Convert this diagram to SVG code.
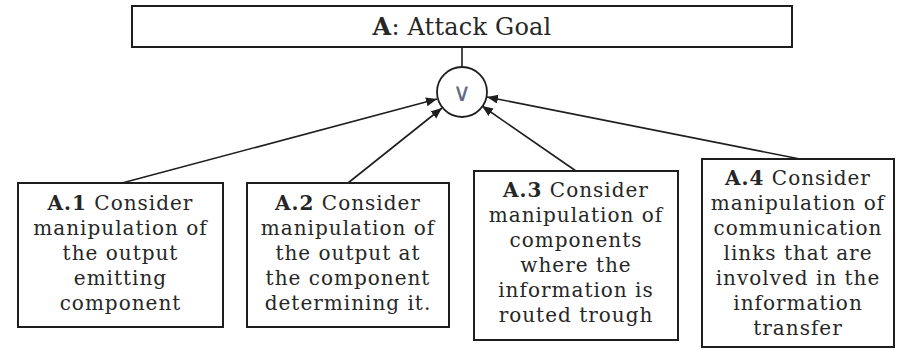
<svg xmlns="http://www.w3.org/2000/svg" width="899" height="349" viewBox="0 0 899 349">
  <style>
    .box { fill: #ffffff; stroke: #1e1e1e; stroke-width: 2; }
    .lbl { font-family: "DejaVu Serif", "Liberation Serif", serif; font-size: 20px; letter-spacing: 1px; fill: #262626; text-anchor: middle; }
    .ttl { font-family: "DejaVu Serif", "Liberation Serif", serif; font-size: 24px; letter-spacing: 0.2px; fill: #262626; text-anchor: middle; }
    .b { font-weight: bold; }
    .edge { stroke: #1e1e1e; stroke-width: 1.6; fill: none; }
    .gate { fill: #ffffff; stroke: #1e1e1e; stroke-width: 1.8; }
    .op { font-family: "DejaVu Sans", sans-serif; font-size: 25px; fill: #5f6b84; text-anchor: middle; }
  </style>
  <defs>
    <marker id="arrow" markerUnits="userSpaceOnUse" markerWidth="12" markerHeight="10" refX="11" refY="4.5" orient="auto">
      <path d="M0,0 L11,4.5 L0,9 z" fill="#1e1e1e"/>
    </marker>
  </defs>

  <!-- connectors -->
  <g id="connectors">
    <line class="edge" x1="462" y1="47" x2="462" y2="67"/>
    <line class="edge" x1="122" y1="183" x2="437" y2="99" marker-end="url(#arrow)"/>
    <line class="edge" x1="348" y1="183" x2="442" y2="108" marker-end="url(#arrow)"/>
    <line class="edge" x1="576" y1="171" x2="482" y2="106" marker-end="url(#arrow)"/>
    <line class="edge" x1="800" y1="159" x2="487" y2="97" marker-end="url(#arrow)"/>
  </g>

  <!-- goal -->
  <g id="goal">
    <rect class="box" x="132" y="6" width="660" height="41"/>
    <text class="ttl" x="462" y="35"><tspan class="b">A</tspan>: Attack Goal</text>
  </g>

  <!-- OR gate -->
  <g id="or-gate">
    <circle class="gate" cx="462" cy="92" r="25"/>
    <text class="op" x="462" y="101">∨</text>
  </g>

  <g id="a1">
    <rect class="box" x="18" y="183" width="205" height="144"/>
    <text class="lbl" x="120.5" y="210"><tspan class="b">A.1</tspan> Consider</text>
    <text class="lbl" x="120.5" y="235">manipulation of</text>
    <text class="lbl" x="120.5" y="260">the output</text>
    <text class="lbl" x="120.5" y="285">emitting</text>
    <text class="lbl" x="120.5" y="310">component</text>
  </g>

  <g id="a2">
    <rect class="box" x="247" y="183" width="202" height="144"/>
    <text class="lbl" x="348" y="210"><tspan class="b">A.2</tspan> Consider</text>
    <text class="lbl" x="348" y="235">manipulation of</text>
    <text class="lbl" x="348" y="260">the output at</text>
    <text class="lbl" x="348" y="285">the component</text>
    <text class="lbl" x="348" y="310">determining it.</text>
  </g>

  <g id="a3">
    <rect class="box" x="474" y="171" width="204" height="169"/>
    <text class="lbl" x="576" y="197"><tspan class="b">A.3</tspan> Consider</text>
    <text class="lbl" x="576" y="222">manipulation of</text>
    <text class="lbl" x="576" y="247">components</text>
    <text class="lbl" x="576" y="272">where the</text>
    <text class="lbl" x="576" y="297">information is</text>
    <text class="lbl" x="576" y="322">routed trough</text>
  </g>

  <g id="a4">
    <rect class="box" x="702" y="159" width="192" height="188"/>
    <text class="lbl" x="798" y="185"><tspan class="b">A.4</tspan> Consider</text>
    <text class="lbl" x="798" y="210">manipulation of</text>
    <text class="lbl" x="798" y="235">communication</text>
    <text class="lbl" x="798" y="260">links that are</text>
    <text class="lbl" x="798" y="285">involved in the</text>
    <text class="lbl" x="798" y="310">information</text>
    <text class="lbl" x="798" y="335">transfer</text>
  </g>
</svg>
